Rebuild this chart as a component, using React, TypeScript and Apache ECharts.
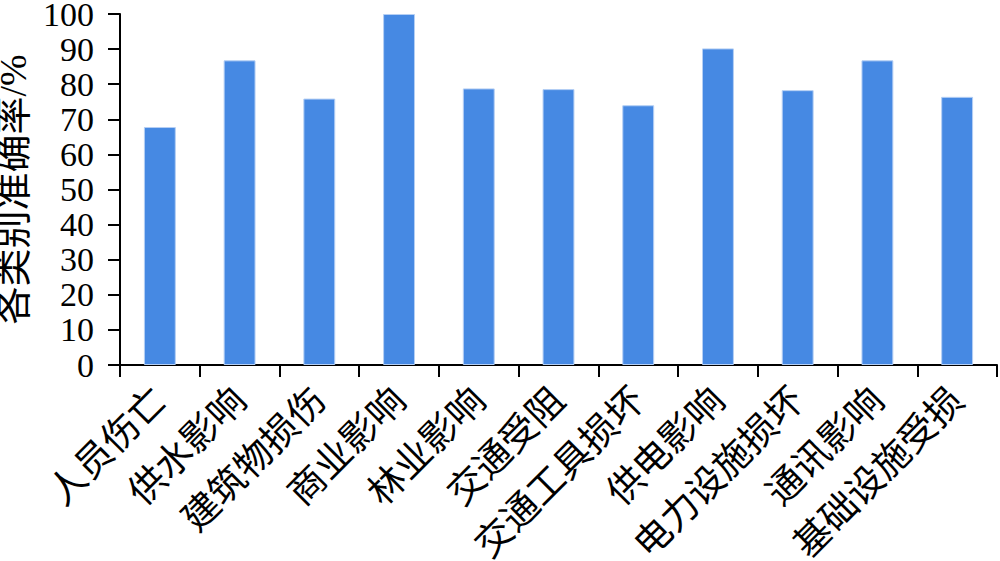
import React, { useEffect, useRef } from "react";
import * as echarts from "echarts";

const categories = [
  "人员伤亡",
  "供水影响",
  "建筑物损伤",
  "商业影响",
  "林业影响",
  "交通受阻",
  "交通工具损坏",
  "供电影响",
  "电力设施损坏",
  "通讯影响",
  "基础设施受损",
];
const accuracy = [67.8, 86.8, 75.9, 100, 78.8, 78.6, 74.0, 90.2, 78.3, 86.8, 76.4];
const yAxisName = "各类别准确率/%";

const FONT = "'Liberation Serif', 'Noto Sans CJK SC', serif";

export default function App() {
  const ref = useRef<HTMLDivElement>(null);
  useEffect(() => {
    if (!ref.current) return;
    const chart = echarts.init(ref.current, undefined, { renderer: "svg" });
    chart.setOption({
      animation: false,
      backgroundColor: "#ffffff",
      grid: {
        left: 120,
        right: 3,
        top: 14,
        bottom: 196,
        containLabel: false,
        outerBoundsMode: "none",
      },
      xAxis: {
        type: "category",
        data: categories,
        axisLine: { lineStyle: { color: "#000", width: 2 } },
        axisTick: { show: true, length: 12, lineStyle: { color: "#000", width: 2 } },
        axisLabel: {
          rotate: 45,
          interval: 0,
          margin: 29,
          color: "#000",
          fontSize: 37,
          fontFamily: FONT,
        },
      },
      yAxis: {
        type: "value",
        min: 0,
        max: 100,
        interval: 10,
        name: yAxisName,
        nameLocation: "middle",
        nameGap: 78,
        nameTextStyle: { color: "#000", fontSize: 38, fontFamily: FONT },
        axisLine: { show: true, lineStyle: { color: "#000", width: 2 } },
        axisTick: { show: true, length: 12, lineStyle: { color: "#000", width: 2 } },
        splitLine: { show: false },
        axisLabel: {
          color: "#000",
          fontSize: 34,
          fontFamily: FONT,
          margin: 26,
        },
      },
      series: [
        {
          type: "bar",
          data: accuracy,
          barWidth: "40%",
          itemStyle: { color: "#4689e3", borderColor: "#b5cff4", borderWidth: 1 },
        },
      ],
    });
    return () => chart.dispose();
  }, []);
  return <div ref={ref} style={{ width: 1000, height: 561, position: "absolute", left: 0, top: 0 }} />;
}
